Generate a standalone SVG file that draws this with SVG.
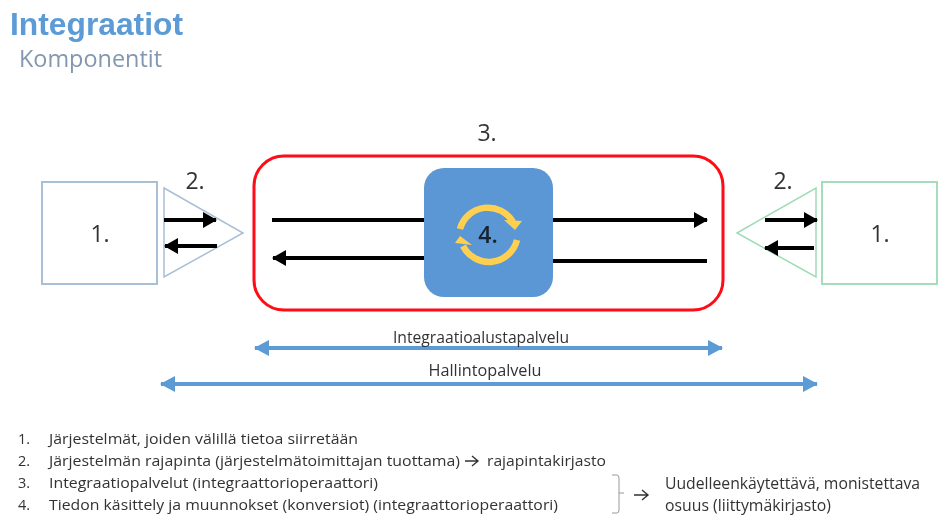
<svg xmlns="http://www.w3.org/2000/svg" width="938" height="515" viewBox="0 0 938 515">
<defs>
<style>
text{font-family:"Open Sans","Noto Sans","Liberation Sans",sans-serif;fill:#333}
.n{font-size:23px;text-anchor:middle;fill:#333}
.l{font-size:14.500px}
.w{font-size:16px}
.c{font-size:16px;text-anchor:middle}
.k{stroke:#000;stroke-width:4;fill:none}
.b{stroke:#5b9bd5;stroke-width:4;fill:none}
.y{stroke:#ffd050;stroke-width:6.500;fill:none}
</style>
<filter id="s" x="-5%" y="-5%" width="110%" height="110%"><feGaussianBlur stdDeviation="0.6"/></filter>
<marker id="ka" markerUnits="userSpaceOnUse" markerWidth="14" markerHeight="16" refX="13" refY="8" orient="auto-start-reverse"><path d="M0 0L14 8L0 16Z" fill="#000"/></marker>
<marker id="ba" markerUnits="userSpaceOnUse" markerWidth="15" markerHeight="16" refX="14" refY="8" orient="auto-start-reverse"><path d="M0 0L15 8L0 16Z" fill="#5b9bd5"/></marker>
</defs>
<rect width="938" height="515" fill="#fff"/>
<g filter="url(#s)">
<g id="title">
<text x="10" y="35" font-size="32" font-weight="700" textLength="173" lengthAdjust="spacingAndGlyphs" style="font-family:'Liberation Sans',sans-serif;fill:#5b9bd5">Integraatiot</text>
<text x="19" y="67" font-size="24" textLength="143" lengthAdjust="spacingAndGlyphs" style="fill:#8497b0">Komponentit</text>
</g>
<g id="system-left">
<rect x="42" y="182" width="115" height="102" fill="#fff" stroke="#a9bfd6" stroke-width="2"/>
<text class="n" x="100" y="242">1.</text>
</g>
<g id="interface-left">
<path d="M164 188L243 233L164 277Z" fill="#fff" stroke="#a9bfd6" stroke-width="1.500"/>
<text class="n" x="195" y="189">2.</text>
</g>
<g id="platform">
<rect x="254" y="156" width="469" height="154" rx="30" fill="#fff" stroke="#ff0a14" stroke-width="3"/>
<text class="n" x="487" y="141">3.</text>
</g>
<g id="interface-right">
<path d="M737 233L816 188L816 277Z" fill="#fff" stroke="#9fdcb5" stroke-width="1.500"/>
<text class="n" x="783" y="189">2.</text>
</g>
<g id="system-right">
<rect x="822" y="182" width="115" height="102" fill="#fff" stroke="#a5dcb9" stroke-width="2"/>
<text class="n" x="880" y="242">1.</text>
</g>
<g id="connectors">
<path class="k" d="M164 220H216" marker-end="url(#ka)"/>
<path class="k" d="M217 246H165" marker-end="url(#ka)"/>
<path class="k" d="M765 220H817" marker-end="url(#ka)"/>
<path class="k" d="M814 248H765" marker-end="url(#ka)"/>
<path class="k" d="M272 220H426"/>
<path class="k" d="M551 220H707" marker-end="url(#ka)"/>
<path class="k" d="M426 258H273" marker-end="url(#ka)"/>
<path class="k" d="M551 261H707"/>
<path class="b" d="M255 348H722" marker-start="url(#ba)" marker-end="url(#ba)"/>
<path class="b" d="M161 384H817" marker-start="url(#ba)" marker-end="url(#ba)"/>
</g>
<g id="transform">
<rect x="424" y="168" width="129" height="129" rx="20" fill="#5b97d5"/>
<path class="y" d="M460 229A29 29 0 0 1 513 222"/>
<path d="M504 220L522 221L515 230Z" fill="#ffd050"/>
<path class="y" d="M517 240A29 29 0 0 1 463 246"/>
<path d="M455 243L472 245L460 236Z" fill="#ffd050"/>
<text class="n" x="488" y="243" style="fill:#14202e;font-weight:600">4.</text>
</g>
<g id="span-labels">
<text class="c" x="481" y="343" textLength="176" lengthAdjust="spacingAndGlyphs">Integraatioalustapalvelu</text>
<text class="c" x="485" y="376" textLength="113" lengthAdjust="spacingAndGlyphs">Hallintopalvelu</text>
</g>
<g id="legend">
<text class="l" x="18" y="444">1.</text>
<text class="l" x="49" y="444" textLength="309" lengthAdjust="spacingAndGlyphs">Järjestelmät, joiden välillä tietoa siirretään</text>
<text class="l" x="18" y="466">2.</text>
<text class="l" x="49" y="466" textLength="411" lengthAdjust="spacingAndGlyphs">Järjestelmän rajapinta (järjestelmätoimittajan tuottama)</text>
<path d="M465 461H477M472 456L478 461L472 466" fill="none" stroke="#333" stroke-width="1.400"/>
<text class="l" x="487" y="466" textLength="119" lengthAdjust="spacingAndGlyphs">rajapintakirjasto</text>
<text class="l" x="18" y="488">3.</text>
<text class="l" x="49" y="488" textLength="329" lengthAdjust="spacingAndGlyphs">Integraatiopalvelut (integraattorioperaattori)</text>
<text class="l" x="18" y="510">4.</text>
<text class="l" x="49" y="510" textLength="509" lengthAdjust="spacingAndGlyphs">Tiedon käsittely ja muunnokset (konversiot) (integraattorioperaattori)</text>
<path d="M612 475H617Q619 475 619 478V493H624M619 493V510Q619 513 617 513H612" fill="none" stroke="#999" stroke-width="1"/>
<path d="M634 495H647M642 490L648 495L642 500" fill="none" stroke="#333" stroke-width="1.400"/>
<text class="w" x="665" y="489" textLength="255" lengthAdjust="spacingAndGlyphs">Uudelleenkäytettävä, monistettava</text>
<text class="w" x="665" y="511" textLength="166" lengthAdjust="spacingAndGlyphs">osuus (liittymäkirjasto)</text>
</g>
</g>
</svg>
